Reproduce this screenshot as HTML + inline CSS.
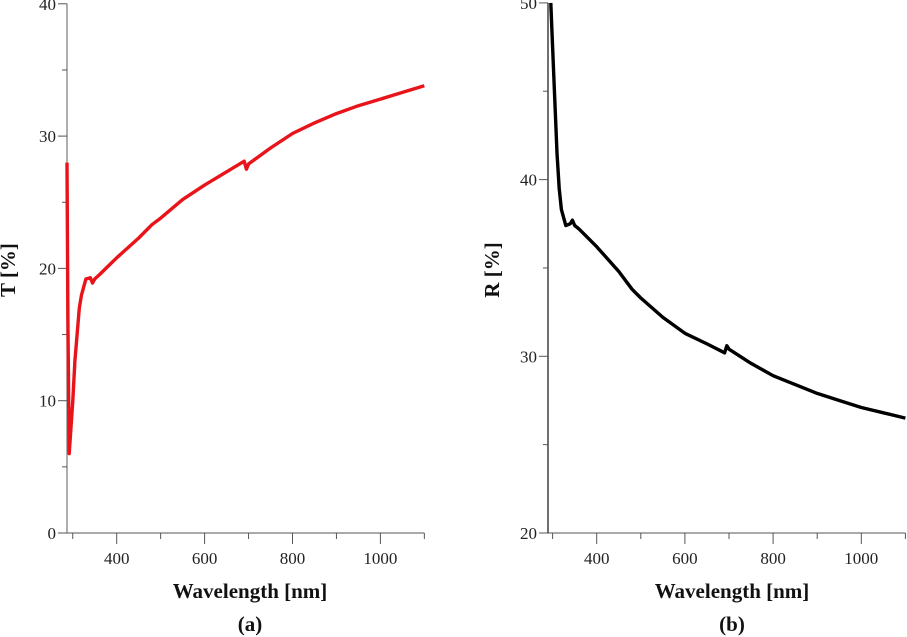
<!DOCTYPE html>
<html><head><meta charset="utf-8">
<style>
html,body{margin:0;padding:0;background:#fff;}
svg{display:block;font-family:"Liberation Serif",serif;}
</style></head>
<body>
<svg id="chart" width="907" height="637" viewBox="0 0 907 637"></svg>
<script>
const tWl = [287, 289, 292, 296, 300, 305, 310, 315, 320, 330, 340, 345, 350, 360, 400, 450, 480, 500, 550, 600, 650, 690, 695, 700, 750, 800, 850, 900, 950, 1000, 1050, 1100];
const tVal = [28, 16, 6, 8, 10, 13, 15, 17, 18, 19.2, 19.3, 18.9, 19.2, 19.5, 20.8, 22.3, 23.3, 23.8, 25.2, 26.3, 27.3, 28.1, 27.5, 27.9, 29.1, 30.2, 31.0, 31.7, 32.3, 32.8, 33.3, 33.8];
const rWl = [296, 300, 305, 310, 315, 320, 330, 340, 345, 350, 360, 400, 450, 480, 500, 550, 600, 650, 690, 695, 700, 750, 800, 850, 900, 950, 1000, 1050, 1100];
const rVal = [50, 47.5, 44.5, 41.5, 39.5, 38.3, 37.4, 37.5, 37.7, 37.4, 37.2, 36.2, 34.8, 33.8, 33.3, 32.2, 31.3, 30.7, 30.2, 30.6, 30.4, 29.6, 28.9, 28.4, 27.9, 27.5, 27.1, 26.8, 26.5];
const xTicks = [400, 600, 800, 1000];
const xMinor = [300, 500, 700, 900, 1100];
const tTicks = [0, 10, 20, 30, 40];
const rTicks = [20, 30, 40, 50];

const NS = "http://www.w3.org/2000/svg";
const svg = document.getElementById("chart");
function el(tag, attrs, parent){const e=document.createElementNS(NS,tag);for(const k in attrs)e.setAttribute(k,attrs[k]);(parent||svg).appendChild(e);return e;}

function panel(cfg){
  const g = el("g",{});
  
  
  const x = nm => cfg.x400 + (nm-400)*cfg.pxPer;
  const y = v => 533 - (v-cfg.yMin)*cfg.yPx;
  const ax = el("line",{x1:cfg.axX,y1:533,x2:x(1100),y2:533,stroke:"#777","stroke-width":1.2},g);
  
  
  const ay = el("line",{x1:cfg.axX,y1:533,x2:cfg.axX,y2:y(cfg.yMax),stroke:cfg.yAxisColor,"stroke-width":1.2},g);
  
  
  xTicks.forEach(t=>{
    el("line",{x1:x(t),y1:533,x2:x(t),y2:544,stroke:"#555"},g);
    const tx=el("text",{x:x(t),y:564,"text-anchor":"middle","font-size":17,fill:"#222"},g);
    tx.textContent=t;
    
    
  });
  xMinor.forEach(t=>{el("line",{x1:x(t),y1:533,x2:x(t),y2:539,stroke:"#555"},g);});
  cfg.ticks.forEach(t=>{
    el("line",{x1:cfg.axX-9,y1:y(t),x2:cfg.axX,y2:y(t),stroke:"#555"},g);
    const tx=el("text",{x:cfg.axX-11,y:y(t)+6,"text-anchor":"end","font-size":17,fill:"#222"},g);
    tx.textContent=t;
    
    
    if(t<cfg.yMax) el("line",{x1:cfg.axX-5,y1:y(t+5),x2:cfg.axX,y2:y(t+5),stroke:"#555"},g);
  });
  const pts = cfg.wl.map((w,i)=>x(w).toFixed(1)+","+y(cfg.vals[i]).toFixed(1)).join(" ");
  const ln = el("polyline",{points:pts,fill:"none",stroke:cfg.color,"stroke-width":3.4,"stroke-linejoin":"round"},g);
  
  
  const xt = el("text",{x:cfg.titleX,y:598,"text-anchor":"middle","font-size":21,"font-weight":"bold",fill:"#111"},g);
  xt.textContent="Wavelength [nm]";
  
  
  const pl = el("text",{x:cfg.titleX,y:631,"text-anchor":"middle","font-size":21,"font-weight":"bold",fill:"#111"},g);
  pl.textContent=cfg.label;
  
  
  const yt = el("text",{x:0,y:0,"text-anchor":"middle","font-size":21,"font-weight":"bold",fill:"#111",transform:`translate(${cfg.yTitleX},270) rotate(-90)`},g);
  yt.textContent=cfg.yTitle;
  
  
}
panel({name:"transmittance-panel",x400:116.7,pxPer:0.4395,axX:67,yMin:0,yMax:40,yPx:13.23,ticks:tTicks,wl:tWl,vals:tVal,color:"#e8141a",seriesName:"transmittance-line",titleX:250,label:"(a)",yTitle:"T [%]",yTitleX:15,yAxisColor:"#777"});
panel({name:"reflectance-panel",x400:596.7,pxPer:0.441,axX:548,yMin:20,yMax:50,yPx:17.67,ticks:rTicks,wl:rWl,vals:rVal,color:"#000",seriesName:"reflectance-line",titleX:732,label:"(b)",yTitle:"R [%]",yTitleX:499,yAxisColor:"#111"});
</script>
</body></html>
